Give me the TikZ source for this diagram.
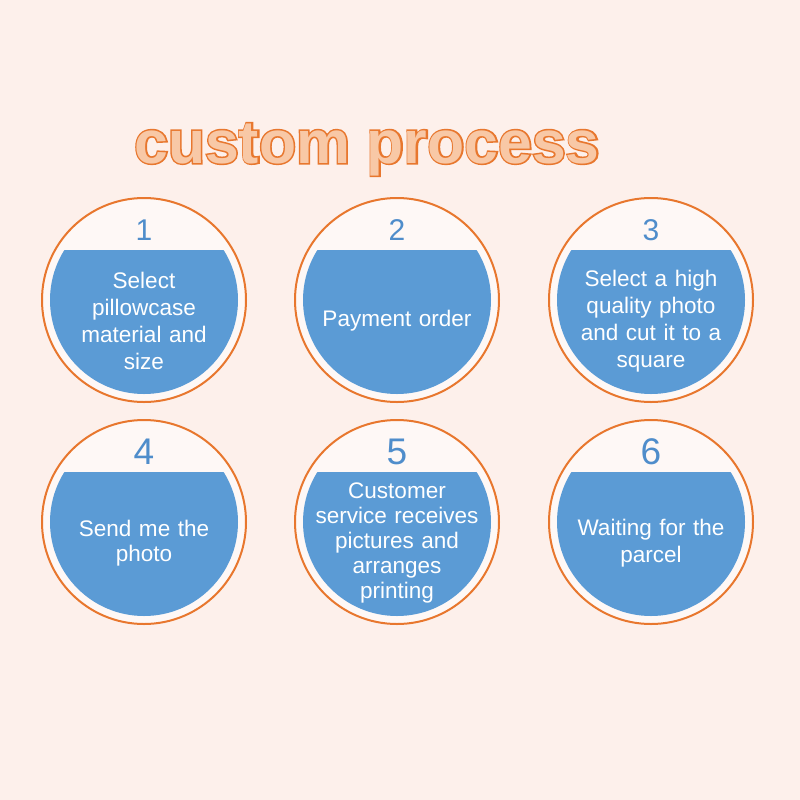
\documentclass[tikz,border=0pt]{standalone}
\usepackage{fontspec}
\setmainfont{Liberation Sans}
\newfontfamily\titlestroke[FakeBold=5]{Liberation Sans Bold}
\newfontfamily\titlefont{Liberation Sans Bold}
\usepackage{tikz}
\usetikzlibrary{positioning,calc}

\definecolor{bgpink}{HTML}{FDF0EB}
\definecolor{ringorange}{HTML}{E8772E}
\definecolor{titlefill}{HTML}{F8C8A6}
\definecolor{stepblue}{HTML}{5B9BD5}
\definecolor{numblue}{HTML}{4F8DCB}

\tikzset{
    ring/.style={circle, draw=ringorange, line width=1.5pt, minimum size=153pt,
        inner sep=0pt, fill=white!55!bgpink},
    stepnum/.style={text=numblue, inner sep=0pt},
    steptext/.style={text=white, align=center, text width=135pt, inner sep=0pt}
}

\begin{document}
\begin{tikzpicture}[x=0.75pt, y=-0.75pt]
    % Background
    \fill[bgpink] (0,0) rectangle (800,800);
    \useasboundingbox (0,0) rectangle (800,800);

    % Title: stroked copy under the filled one
    \node[anchor=base, text=ringorange, font=\fontsize{45.5}{50}\titlestroke] (titleline) at (367,163)
        {custom process};
    \node[anchor=base, text=titlefill, font=\fontsize{45.5}{50}\titlefont] (title) at (titleline.base)
        {custom process};

    % Steps
    \foreach \n/\cx/\cy/\ds/\ls/\txt in {
        1/144/300/22.5/20.2/{Select\\pillowcase\\material and\\size},
        2/397/300/22.5/20.2/{Payment order},
        3/651/300/22.5/20.2/{Select a high\\quality photo\\and cut it to a\\square},
        4/144/522/27.8/19.2/{Send me the\\photo},
        5/397/522/27.8/18.8/{Customer\\service receives\\pictures and\\arranges\\printing},
        6/651/522/27.8/20.2/{Waiting for the\\parcel}} {
        \node[ring] (c\n) at (\cx,\cy) {};
        \begin{scope}
            \clip (c\n.center) circle (94);
            \fill[stepblue] ($(c\n.center)+(-100,-50)$) rectangle ($(c\n.center)+(100,100)$);
        \end{scope}
        \node[stepnum, font=\fontsize{\ds}{\ds}\selectfont] (n\n) at ($(c\n.center)+(0,-70)$) {\n};
        \node[steptext, font=\fontsize{16.9}{\ls}\selectfont] (t\n) at ($(c\n.center)+(0,21)$) {\txt};
    }
\end{tikzpicture}
\end{document}
